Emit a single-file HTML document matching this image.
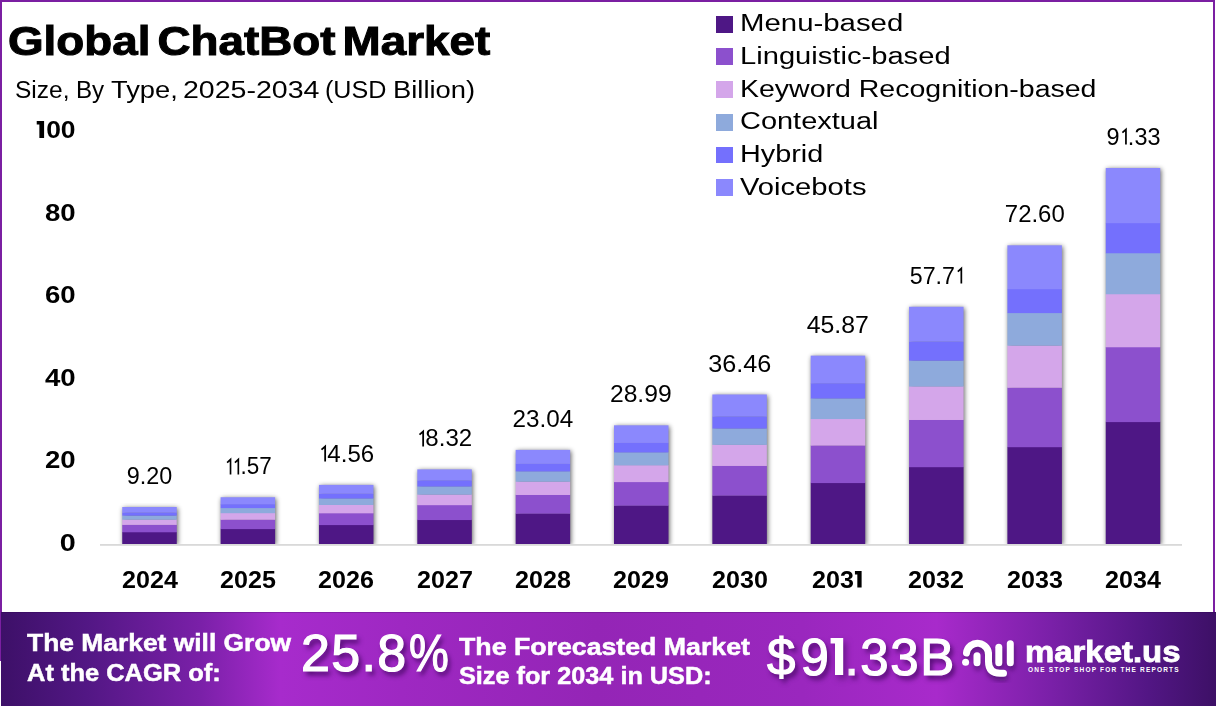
<!DOCTYPE html>
<html><head><meta charset="utf-8"><style>
*{margin:0;padding:0;box-sizing:border-box}
html,body{width:1216px;height:706px;overflow:hidden;background:#fff}
body{position:relative;font-family:"Liberation Sans",sans-serif;color:#000}
.abs{position:absolute}
.bt{position:absolute;left:0;top:0;width:1215px;height:2px;background:#7b1fa2}
.bl{position:absolute;left:0;top:0;width:2px;height:661px;background:#7b1fa2}
.br{position:absolute;left:1213px;top:0;width:2px;height:612px;background:#7b1fa2}
.title{position:absolute;left:7.5px;top:18px;font-weight:bold;font-size:40px;line-height:46px;white-space:nowrap;transform-origin:0 0;transform:scaleX(1.145);word-spacing:-5px;-webkit-text-stroke:1px #000}
.sub{position:absolute;left:15px;top:75.5px;font-size:23px;line-height:28px;white-space:nowrap;transform-origin:0 0;transform:scaleX(1.145)}
.yl{position:absolute;left:0;width:75.5px;text-align:right;font-weight:bold;font-size:23px;line-height:24px}
.vl{position:absolute;width:100px;text-align:center;font-size:23px;line-height:24px;white-space:nowrap}
.xl{position:absolute;top:566.5px;width:100px;text-align:center;font-weight:bold;font-size:24px;line-height:26px;transform:scaleX(1.045)}
.leg{position:absolute;left:716px;top:0}
.li{position:absolute;left:0;width:400px;height:30px}
.sq{position:absolute;width:17px;height:16.5px}
.lt{position:absolute;font-size:23px;line-height:30px;white-space:nowrap;transform-origin:0 0;transform:scaleX(1.227)}
.foot{position:absolute;left:1px;top:612px;width:1215px;height:94px;
 background:linear-gradient(90deg,#3d1068 0%,#521784 7%,#7a20a8 16.4%,#a72bcc 23%,#9e28c2 33%,#9425b6 49%,#9a27be 66%,#a82acb 77%,#7a20a8 86.4%,#521684 94.5%,#3d1066 100%);
 }
.ftl{position:absolute;left:0;top:0;width:100%;height:1.2px;background:rgba(40,0,70,.25)}
.ft{position:absolute;color:#fff;font-weight:bold;font-size:24px;line-height:30px;white-space:nowrap;transform-origin:0 0;-webkit-text-stroke:0.5px #fff}
.big{position:absolute;color:#fff;font-size:52px;line-height:56px;white-space:nowrap;-webkit-text-stroke:1.2px #fff;text-shadow:3px 4px 5px rgba(60,5,90,.85)}
</style></head><body>
<div class="bt"></div><div class="bl"></div><div class="br"></div>
<div class="title">Global ChatBot Market</div>
<div class="sub" style="left:15.40px;transform:scaleX(1.0665)">Size,</div><div class="sub" style="left:75.60px;transform:scaleX(1.0509)">By</div><div class="sub" style="left:111.10px;transform:scaleX(1.1863)">Type,</div><div class="sub" style="left:183.20px;transform:scaleX(1.2409)">2025-2034</div><div class="sub" style="left:325.30px;transform:scaleX(1.0924)">(USD</div><div class="sub" style="left:392.50px;transform:scaleX(1.1893)">Billion)</div>
<div class="yl" style="top:117.5px"><span style="display:inline-block;transform-origin:100% 50%;transform:scaleX(1.15)"><svg width="9" height="17" viewBox="0 0 9 17" style="vertical-align:baseline;overflow:visible"><path d="M0.8 0 H7.2 V17 H3.1 V3.4 H0.8 Z" fill="#000"/></svg>00</span></div><div class="yl" style="top:200.9px"><span style="display:inline-block;transform-origin:100% 50%;transform:scaleX(1.2)">80</span></div><div class="yl" style="top:282.7px"><span style="display:inline-block;transform-origin:100% 50%;transform:scaleX(1.2)">60</span></div><div class="yl" style="top:365.7px"><span style="display:inline-block;transform-origin:100% 50%;transform:scaleX(1.2)">40</span></div><div class="yl" style="top:447.9px"><span style="display:inline-block;transform-origin:100% 50%;transform:scaleX(1.2)">20</span></div><div class="yl" style="top:530.5px"><span style="display:inline-block;transform-origin:100% 50%;transform:scaleX(1.25)">0</span></div>
<svg class="abs" style="left:0;top:0" width="1216" height="612">
<defs><filter id="sh" x="-30%" y="-10%" width="160%" height="120%"><feGaussianBlur stdDeviation="2.4"/><feComponentTransfer><feFuncA type="linear" slope="0.62"/></feComponentTransfer><feOffset dx="0.8" dy="0.5"/></filter></defs>
<clipPath id="cp"><rect x="0" y="0" width="1216" height="544"/></clipPath>
<g clip-path="url(#cp)"><rect x="122.25" y="507.02" width="54.5" height="36.98" fill="#000" filter="url(#sh)"/><rect x="122.25" y="531.98" width="54.5" height="12.32" fill="#4e1785"/><rect x="122.25" y="524.62" width="54.5" height="7.66" fill="#8c50cd"/><rect x="122.25" y="519.41" width="54.5" height="5.51" fill="#d4a6ea"/><rect x="122.25" y="515.38" width="54.5" height="4.33" fill="#8eaadc"/><rect x="122.25" y="512.42" width="54.5" height="3.26" fill="#7470fd"/><rect x="122.25" y="507.02" width="54.5" height="5.70" fill="#8b88fd"/><rect x="220.60" y="497.24" width="54.5" height="46.76" fill="#000" filter="url(#sh)"/><rect x="220.60" y="528.80" width="54.5" height="15.50" fill="#4e1785"/><rect x="220.60" y="519.50" width="54.5" height="9.61" fill="#8c50cd"/><rect x="220.60" y="512.90" width="54.5" height="6.89" fill="#d4a6ea"/><rect x="220.60" y="507.81" width="54.5" height="5.40" fill="#8eaadc"/><rect x="220.60" y="504.07" width="54.5" height="4.04" fill="#7470fd"/><rect x="220.60" y="497.24" width="54.5" height="7.13" fill="#8b88fd"/><rect x="318.95" y="484.90" width="54.5" height="59.10" fill="#000" filter="url(#sh)"/><rect x="318.95" y="524.79" width="54.5" height="19.51" fill="#4e1785"/><rect x="318.95" y="513.03" width="54.5" height="12.06" fill="#8c50cd"/><rect x="318.95" y="504.70" width="54.5" height="8.63" fill="#d4a6ea"/><rect x="318.95" y="498.25" width="54.5" height="6.74" fill="#8eaadc"/><rect x="318.95" y="493.53" width="54.5" height="5.03" fill="#7470fd"/><rect x="318.95" y="484.90" width="54.5" height="8.93" fill="#8b88fd"/><rect x="417.30" y="469.38" width="54.5" height="74.62" fill="#000" filter="url(#sh)"/><rect x="417.30" y="519.75" width="54.5" height="24.55" fill="#4e1785"/><rect x="417.30" y="504.90" width="54.5" height="15.15" fill="#8c50cd"/><rect x="417.30" y="494.37" width="54.5" height="10.82" fill="#d4a6ea"/><rect x="417.30" y="486.24" width="54.5" height="8.43" fill="#8eaadc"/><rect x="417.30" y="480.27" width="54.5" height="6.27" fill="#7470fd"/><rect x="417.30" y="469.38" width="54.5" height="11.20" fill="#8b88fd"/><rect x="515.65" y="449.89" width="54.5" height="94.11" fill="#000" filter="url(#sh)"/><rect x="515.65" y="513.41" width="54.5" height="30.89" fill="#4e1785"/><rect x="515.65" y="494.69" width="54.5" height="19.03" fill="#8c50cd"/><rect x="515.65" y="481.42" width="54.5" height="13.57" fill="#d4a6ea"/><rect x="515.65" y="471.16" width="54.5" height="10.56" fill="#8eaadc"/><rect x="515.65" y="463.63" width="54.5" height="7.83" fill="#7470fd"/><rect x="515.65" y="449.89" width="54.5" height="14.04" fill="#8b88fd"/><rect x="614.00" y="425.33" width="54.5" height="118.67" fill="#000" filter="url(#sh)"/><rect x="614.00" y="505.43" width="54.5" height="38.87" fill="#4e1785"/><rect x="614.00" y="481.82" width="54.5" height="23.92" fill="#8c50cd"/><rect x="614.00" y="465.08" width="54.5" height="17.03" fill="#d4a6ea"/><rect x="614.00" y="452.15" width="54.5" height="13.24" fill="#8eaadc"/><rect x="614.00" y="442.66" width="54.5" height="9.79" fill="#7470fd"/><rect x="614.00" y="425.33" width="54.5" height="17.63" fill="#8b88fd"/><rect x="712.35" y="394.49" width="54.5" height="149.51" fill="#000" filter="url(#sh)"/><rect x="712.35" y="495.41" width="54.5" height="48.89" fill="#4e1785"/><rect x="712.35" y="465.66" width="54.5" height="30.05" fill="#8c50cd"/><rect x="712.35" y="444.58" width="54.5" height="21.38" fill="#d4a6ea"/><rect x="712.35" y="428.28" width="54.5" height="16.60" fill="#8eaadc"/><rect x="712.35" y="416.32" width="54.5" height="12.26" fill="#7470fd"/><rect x="712.35" y="394.49" width="54.5" height="22.13" fill="#8b88fd"/><rect x="810.70" y="355.65" width="54.5" height="188.35" fill="#000" filter="url(#sh)"/><rect x="810.70" y="482.79" width="54.5" height="61.51" fill="#4e1785"/><rect x="810.70" y="445.30" width="54.5" height="37.78" fill="#8c50cd"/><rect x="810.70" y="418.75" width="54.5" height="26.86" fill="#d4a6ea"/><rect x="810.70" y="398.22" width="54.5" height="20.83" fill="#8eaadc"/><rect x="810.70" y="383.15" width="54.5" height="15.37" fill="#7470fd"/><rect x="810.70" y="355.65" width="54.5" height="27.80" fill="#8b88fd"/><rect x="909.05" y="306.77" width="54.5" height="237.23" fill="#000" filter="url(#sh)"/><rect x="909.05" y="466.90" width="54.5" height="77.40" fill="#4e1785"/><rect x="909.05" y="419.69" width="54.5" height="47.51" fill="#8c50cd"/><rect x="909.05" y="386.24" width="54.5" height="33.75" fill="#d4a6ea"/><rect x="909.05" y="360.39" width="54.5" height="26.16" fill="#8eaadc"/><rect x="909.05" y="341.41" width="54.5" height="19.28" fill="#7470fd"/><rect x="909.05" y="306.77" width="54.5" height="34.94" fill="#8b88fd"/><rect x="1007.40" y="245.31" width="54.5" height="298.69" fill="#000" filter="url(#sh)"/><rect x="1007.40" y="446.92" width="54.5" height="97.38" fill="#4e1785"/><rect x="1007.40" y="387.48" width="54.5" height="59.74" fill="#8c50cd"/><rect x="1007.40" y="345.37" width="54.5" height="42.42" fill="#d4a6ea"/><rect x="1007.40" y="312.81" width="54.5" height="32.86" fill="#8eaadc"/><rect x="1007.40" y="288.92" width="54.5" height="24.20" fill="#7470fd"/><rect x="1007.40" y="245.31" width="54.5" height="43.91" fill="#8b88fd"/><rect x="1105.75" y="167.99" width="54.5" height="376.01" fill="#000" filter="url(#sh)"/><rect x="1105.75" y="421.80" width="54.5" height="122.50" fill="#4e1785"/><rect x="1105.75" y="346.97" width="54.5" height="75.13" fill="#8c50cd"/><rect x="1105.75" y="293.95" width="54.5" height="53.32" fill="#d4a6ea"/><rect x="1105.75" y="252.97" width="54.5" height="41.29" fill="#8eaadc"/><rect x="1105.75" y="222.89" width="54.5" height="30.38" fill="#7470fd"/><rect x="1105.75" y="167.99" width="54.5" height="55.20" fill="#8b88fd"/></g>
<rect x="100" y="544" width="1082" height="1.8" fill="#d9d9d9"/>
</svg>
<div class="vl" style="left:99.5px;top:464.0px"><span style="display:inline-block;transform:scaleX(1.016)">9.20</span></div><div class="vl" style="left:197.8px;top:454.2px"><span style="display:inline-block;transform:scaleX(0.976)"><svg width="8.2" height="16.6" viewBox="0 0 8.2 16.6" style="vertical-align:baseline;overflow:visible"><path d="M2.6 4.6 L6.1 1.5 L6.1 16.6" fill="none" stroke="#000" stroke-width="1.7"/></svg><svg width="8.2" height="16.6" viewBox="0 0 8.2 16.6" style="vertical-align:baseline;overflow:visible"><path d="M2.6 4.6 L6.1 1.5 L6.1 16.6" fill="none" stroke="#000" stroke-width="1.7"/></svg>.57</span></div><div class="vl" style="left:296.2px;top:441.9px"><span style="display:inline-block;transform:scaleX(1.046)"><svg width="8.2" height="16.6" viewBox="0 0 8.2 16.6" style="vertical-align:baseline;overflow:visible"><path d="M2.6 4.6 L6.1 1.5 L6.1 16.6" fill="none" stroke="#000" stroke-width="1.7"/></svg>4.56</span></div><div class="vl" style="left:394.5px;top:426.4px"><span style="display:inline-block;transform:scaleX(1.046)"><svg width="8.2" height="16.6" viewBox="0 0 8.2 16.6" style="vertical-align:baseline;overflow:visible"><path d="M2.6 4.6 L6.1 1.5 L6.1 16.6" fill="none" stroke="#000" stroke-width="1.7"/></svg>8.32</span></div><div class="vl" style="left:492.9px;top:406.9px"><span style="display:inline-block;transform:scaleX(1.055)">23.04</span></div><div class="vl" style="left:591.2px;top:382.3px"><span style="display:inline-block;transform:scaleX(1.071)">28.99</span></div><div class="vl" style="left:689.6px;top:351.5px"><span style="display:inline-block;transform:scaleX(1.096)">36.46</span></div><div class="vl" style="left:787.9px;top:312.6px"><span style="display:inline-block;transform:scaleX(1.080)">45.87</span></div><div class="vl" style="left:886.3px;top:263.8px"><span style="display:inline-block;transform:scaleX(1.010)">57.7<svg width="8.2" height="16.6" viewBox="0 0 8.2 16.6" style="vertical-align:baseline;overflow:visible"><path d="M2.6 4.6 L6.1 1.5 L6.1 16.6" fill="none" stroke="#000" stroke-width="1.7"/></svg></span></div><div class="vl" style="left:984.7px;top:202.3px"><span style="display:inline-block;transform:scaleX(1.041)">72.60</span></div><div class="vl" style="left:1083.0px;top:125.0px"><span style="display:inline-block;transform:scaleX(1.020)">9<svg width="8.2" height="16.6" viewBox="0 0 8.2 16.6" style="vertical-align:baseline;overflow:visible"><path d="M2.6 4.6 L6.1 1.5 L6.1 16.6" fill="none" stroke="#000" stroke-width="1.7"/></svg>.33</span></div>
<div class="xl" style="left:99.5px">2024</div><div class="xl" style="left:197.8px">2025</div><div class="xl" style="left:296.2px">2026</div><div class="xl" style="left:394.5px">2027</div><div class="xl" style="left:492.9px">2028</div><div class="xl" style="left:591.2px">2029</div><div class="xl" style="left:689.6px">2030</div><div class="xl" style="left:787.9px">203<svg width="9.5" height="16.6" viewBox="0 0 9.5 16.6" style="vertical-align:baseline;overflow:visible"><path d="M1.2 0 H7.6 V16.6 H3.5 V3.4 H1.2 Z" fill="#000"/></svg></div><div class="xl" style="left:886.3px">2032</div><div class="xl" style="left:984.7px">2033</div><div class="xl" style="left:1083.0px">2034</div>
<div class="sq" style="left:716px;top:16.0px;background:#4e1785"></div><div class="lt" style="left:739.5px;top:8.0px;transform:scaleX(1.277)">Menu-based</div><div class="sq" style="left:716px;top:48.2px;background:#8c50cd"></div><div class="lt" style="left:739.5px;top:41.0px;transform:scaleX(1.267)">Linguistic-based</div><div class="sq" style="left:716px;top:81.2px;background:#d4a6ea"></div><div class="lt" style="left:739.5px;top:74.0px;transform:scaleX(1.239)">Keyword Recognition-based</div><div class="sq" style="left:716px;top:114.0px;background:#8eaadc"></div><div class="lt" style="left:739.5px;top:106.0px;transform:scaleX(1.259)">Contextual</div><div class="sq" style="left:716px;top:146.7px;background:#7470fd"></div><div class="lt" style="left:739.5px;top:139.0px;transform:scaleX(1.252)">Hybrid</div><div class="sq" style="left:716px;top:179.0px;background:#8b88fd"></div><div class="lt" style="left:739.5px;top:172.0px;transform:scaleX(1.268)">Voicebots</div>
<div class="foot"><div class="ftl"></div>
 <div class="ft" style="left:26px;top:16px;transform:scaleX(1.1)">The Market will Grow</div><div class="ft" style="left:26px;top:46px;transform:scaleX(1.061)">At the CAGR of:</div>
 <div class="big" style="left:300px;top:13px"><span style="letter-spacing:1.3px">25.8</span><span style="display:inline-block;margin-left:2px;transform-origin:0 50%;transform:scaleX(0.86)">%</span></div>
 <div class="ft" style="left:458px;top:20px;transform:scaleX(1.113)">The Forecasted Market</div><div class="ft" style="left:458px;top:49px;transform:scaleX(1.052)">Size for 2034 in USD:</div>
 <div class="big" style="left:766px;top:17.5px;font-size:51px"><span style="display:inline-block">$</span><span style="display:inline-block;margin-left:5px;letter-spacing:0.3px">9<svg width="15.5" height="37" viewBox="0 0 15.5 37" style="vertical-align:baseline;overflow:visible;filter:drop-shadow(3px 4px 3px rgba(70,10,100,.6))"><path d="M1.6 0 H14.2 V37 H6 V5.6 H1.6 Z" fill="#fff"/></svg><span style="letter-spacing:1.6px">.33</span>B</span></div>
 <svg class="abs" style="left:949px;top:0" width="80" height="94" viewBox="950 612 80 94">
  <defs><filter id="ls" x="-30%" y="-30%" width="160%" height="160%"><feGaussianBlur stdDeviation="2.5"/><feOffset dx="1" dy="3.5"/><feComponentTransfer><feFuncA type="linear" slope="0.65"/></feComponentTransfer></filter></defs>
  <g fill="none" stroke="#fff" stroke-width="7" stroke-linecap="round">
   <g filter="url(#ls)" stroke="#3a0a5a">
    <path d="M966.5 653 A11 11 0 0 1 988.5 655.7 L988.5 661.5 Q988.5 673.2 1000 673.2 L1003.5 673.2"/>
    <path d="M977 655.7 L977 662.7"/><path d="M998.8 647.2 L998.8 662.7"/><path d="M1010.3 643.8 L1010.3 662.7"/>
   </g>
   <path d="M966.5 653 A11 11 0 0 1 988.5 655.7 L988.5 661.5 Q988.5 673.2 1000 673.2 L1003.5 673.2"/>
    <path d="M977 655.7 L977 662.7"/><path d="M998.8 647.2 L998.8 662.7"/><path d="M1010.3 643.8 L1010.3 662.7"/>
  </g>
  <circle cx="965.6" cy="662.3" r="3.5" fill="#fff"/>
 </svg>
 <div class="ft" style="left:1023.5px;top:23.5px;font-size:30px;line-height:32px;transform:scaleX(1.097);-webkit-text-stroke:0.8px #fff">market.us</div>
 <div class="ft" style="left:1027px;top:54px;font-size:6.5px;line-height:8px;letter-spacing:1.2px;-webkit-text-stroke:0">ONE STOP SHOP FOR THE REPORTS</div>
</div>
</body></html>
